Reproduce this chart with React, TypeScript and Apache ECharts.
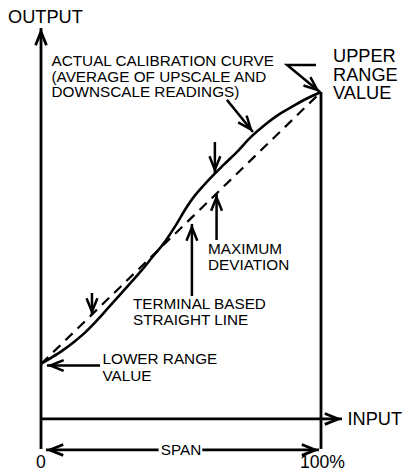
import React, { useEffect, useRef } from "react";
import * as echarts from "echarts";

// ---- data (input % of span, output % of range) ----
const curveX = [0, 4, 8, 12, 16, 20, 24, 28, 32, 36, 40, 44, 48, 52, 55, 60, 65, 70, 75, 80, 85, 90, 95, 100];
const curveY = [0, 2.5, 5.2, 8.3, 11.8, 16.0, 20.6, 25.2, 29.8, 34.5, 39.6, 44.6, 50.8, 57.6, 62.0, 67.8, 73.0, 78.0, 83.5, 88.0, 91.8, 94.8, 97.6, 100];
const straightX = [0, 100];
const straightY = [0, 100];

// annotation arrows / guide lines, in data coordinates (last point = tip)
const arrowPaths: number[][][] = [
  [[0, -31.25], [0, 123.5]], // output axis
  [[0, -20.2], [107.5, -20.2]], // input axis
  [[100, 100], [100, -31.25]], // right edge (100%)
  [[42.0, -31.6], [1.8, -31.6]], // span left
  [[57.6, -31.6], [99.3, -31.6]], // span right
  [[21.1, -0.55], [2.1, -0.55]], // lower range value
  [[18.2, 26.1], [18.2, 18.0]], // lower deviation marker
  [[62.1, 81.6], [62.1, 70.2]], // max deviation (curve side)
  [[62.7, 45.6], [62.7, 62.5]], // max deviation (line side)
  [[53.9, 25.0], [53.9, 51.5]], // terminal based straight line
  [[66.4, 97.1], [75.7, 85.3]], // actual calibration curve
  [[98.2, 109.9], [87.9, 109.9], [99.6, 100]], // upper range value
];
const arrowHasHead = [true, true, false, true, true, true, true, true, true, true, true, true];

const bigTexts = ["OUTPUT", "INPUT", "0", "100%"];
const upperLines = ["UPPER", "RANGE", "VALUE"];
const actualLines = ["ACTUAL CALIBRATION CURVE", "(AVERAGE OF UPSCALE AND", "DOWNSCALE READINGS)"];
const maxDevLines = ["MAXIMUM", "DEVIATION"];
const terminalLines = ["TERMINAL BASED", "STRAIGHT LINE"];
const lowerLines = ["LOWER RANGE", "VALUE"];
const spanText = "SPAN";

const FONT = '"Liberation Sans", Arial, Helvetica, sans-serif';

export default function App() {
  const ref = useRef<HTMLDivElement>(null);

  useEffect(() => {
    if (!ref.current) return;
    const chart = echarts.init(ref.current, undefined, { renderer: "svg" });

    // multi-line text block; y is the vertical centre of the block
    const txt = (lines: string[], x: number, y: number, size: number, lh: number, align = "left") => ({
      type: "text",
      x,
      y,
      silent: true,
      style: {
        text: lines.join("\n"),
        fill: "#000",
        fontSize: size,
        lineHeight: lh,
        fontFamily: FONT,
        align,
        verticalAlign: "middle",
      },
    });

    const small = 15.3;
    const big = 18.2;
    const graphics: any[] = [
      txt([bigTexts[0]], 8, 17, big, big),
      txt([bigTexts[1]], 347.5, 418.5, big, big),
      txt([bigTexts[2]], 41, 461.5, 17.6, 16, "center"),
      txt([bigTexts[3]], 300, 461.5, 17.6, 16),
      txt(upperLines, 333, 74.5, big, 18.4),
      txt(actualLines, 51.5, 76, small, 15.5),
      txt(maxDevLines, 208, 256.5, small, 15.5),
      txt(terminalLines, 133, 311.5, small, 15.5),
      txt(lowerLines, 102.5, 367, small, 17),
      txt([spanText], 181, 449, small, small, "center"),
    ];

    const widths = arrowPaths.map((_, i) => (i < 5 ? 2.8 : 2.5));

    chart.setOption({
      animation: false,
      backgroundColor: "#fff",
      grid: {
        left: 41,
        top: 24,
        width: 308,
        height: 427.04,
        outerBoundsMode: "none",
      },
      xAxis: { type: "value", min: 0, max: 110, show: false },
      yAxis: { type: "value", min: -32, max: 125, show: false },
      graphic: graphics,
      series: [
        {
          type: "line",
          data: straightX.map((x, i) => [x, straightY[i]]),
          symbol: "none",
          lineStyle: { color: "#000", width: 2.2, type: [10, 7] },
          silent: true,
          z: 2,
        },
        {
          type: "line",
          data: curveX.map((x, i) => [x, curveY[i]]),
          symbol: "none",
          smooth: 0.3,
          lineStyle: { color: "#000", width: 2.6 },
          silent: true,
          z: 3,
        },
        {
          type: "custom",
          clip: false,
          silent: true,
          z: 4,
          data: arrowPaths.map((p, i) => [p[0][0], p[0][1], i]),
          renderItem: (params: any, api: any) => {
            const i = params.dataIndex;
            const pts = arrowPaths[i].map((p) => api.coord(p));
            const lw = widths[i];
            const children: any[] = [
              {
                type: "polyline",
                shape: { points: pts },
                style: { stroke: "#000", lineWidth: lw, fill: null, lineJoin: "miter", lineCap: "butt" },
              },
            ];
            if (arrowHasHead[i]) {
              const tip = pts[pts.length - 1];
              const prev = pts[pts.length - 2];
              const ang = Math.atan2(tip[1] - prev[1], tip[0] - prev[0]);
              const a = (22 * Math.PI) / 180;
              const L = 14.5;
              const back = lw / (2 * Math.sin(a));
              const apex = [tip[0] - back * Math.cos(ang), tip[1] - back * Math.sin(ang)];
              const w1 = [apex[0] - L * Math.cos(ang - a), apex[1] - L * Math.sin(ang - a)];
              const w2 = [apex[0] - L * Math.cos(ang + a), apex[1] - L * Math.sin(ang + a)];
              children.push({
                type: "polyline",
                shape: { points: [w1, apex, w2] },
                style: { stroke: "#000", lineWidth: lw, fill: null, lineJoin: "miter", lineCap: "butt" },
              });
            }
            return { type: "group", children };
          },
        },
      ],
    });

    return () => chart.dispose();
  }, []);

  return (
    <div
      ref={ref}
      style={{ position: "fixed", left: 0, top: 0, width: 403, height: 470, background: "#fff" }}
    />
  );
}
